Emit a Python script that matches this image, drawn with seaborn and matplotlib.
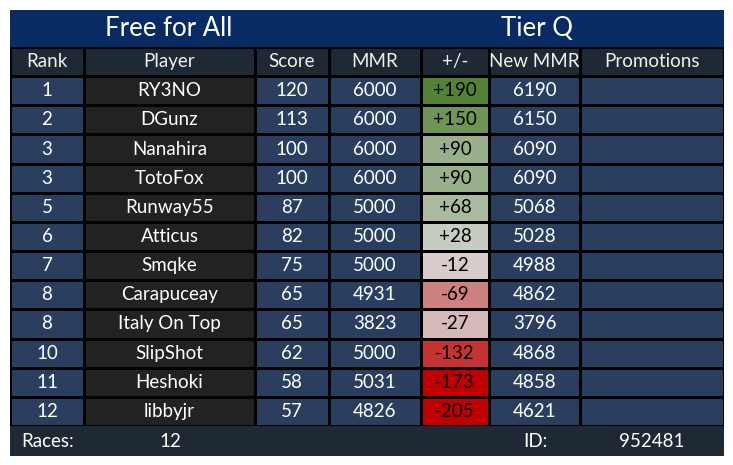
import numpy as np
import pandas as pd
import seaborn as sns
import matplotlib.pyplot as plt
from matplotlib.colors import LinearSegmentedColormap, ListedColormap, TwoSlopeNorm

columns = ['Rank', 'Player', 'Score', 'MMR', '+/-', 'New MMR', 'Promotions']
rank = ['1', '2', '3', '3', '5', '6', '7', '8', '8', '10', '11', '12']
player = ['RY3NO', 'DGunz', 'Nanahira', 'TotoFox', 'Runway55', 'Atticus', 'Smqke',
          'Carapuceay', 'Italy On Top', 'SlipShot', 'Heshoki', 'libbyjr']
score = [120, 113, 100, 100, 87, 82, 75, 65, 65, 62, 58, 57]
mmr = [6000, 6000, 6000, 6000, 5000, 5000, 5000, 4931, 3823, 5000, 5031, 4826]
delta = [190, 150, 90, 90, 68, 28, -12, -69, -27, -132, -173, -205]
new_mmr = [6190, 6150, 6090, 6090, 5068, 5028, 4988, 4862, 3796, 4868, 4858, 4621]
promotions = [''] * 12

TITLE_BG = '#082b63'
HEADER_BG = '#1f2933'
BLUE = '#2a3f5f'
DARK = '#222222'
FS = 13.5

sns.set_theme(style='white')
plt.rcParams['font.family'] = ['Lato', 'DejaVu Sans']

col_text = [rank, player, score, mmr, ['%+d' % d for d in delta], new_mmr, promotions]
col_bg = [BLUE, DARK, BLUE, BLUE, None, BLUE, BLUE]
col_widths = [74, 171, 74, 92, 68, 91, 144]

delta_cmap = LinearSegmentedColormap.from_list('delta', ['#c00000', '#d9d9d9', '#548235'])
delta_norm = TwoSlopeNorm(vmin=-173, vcenter=0, vmax=190)

fig = plt.figure(figsize=(7.33, 4.65), dpi=100)
gs = fig.add_gridspec(3, 7, left=10 / 733, right=724 / 733, top=1 - 10 / 465, bottom=1 - 456 / 465,
                      width_ratios=col_widths, height_ratios=[37, 379, 30], wspace=0, hspace=0)

# title bar
ax_top = fig.add_subplot(gs[0, :])
ax_top.set_facecolor(TITLE_BG)
ax_top.set_xlim(10, 724)
ax_top.set_ylim(0, 1)
ax_top.text(169, 0.5, 'Free for All', color='white', fontsize=18.5, ha='center', va='center')
ax_top.text(537, 0.5, 'Tier Q', color='white', fontsize=18.5, ha='center', va='center')

# one heatmap per column, because widths differ
n = len(rank)
for i, name in enumerate(columns):
    ax = fig.add_subplot(gs[1, i])
    labels = np.array([name] + [str(v) for v in col_text[i]], dtype=object).reshape(-1, 1)
    head_mask = np.zeros((n + 1, 1), dtype=bool)
    head_mask[0] = True

    sns.heatmap(pd.DataFrame(np.zeros((n + 1, 1))), ax=ax, mask=~head_mask, cbar=False,
                cmap=ListedColormap([HEADER_BG]), annot=labels, fmt='', linewidths=1,
                linecolor='black', annot_kws={'color': '#f0f0f0', 'fontsize': FS})
    if name == '+/-':
        body = pd.DataFrame(np.array([0] + delta, dtype=float).reshape(-1, 1))
        sns.heatmap(body, ax=ax, mask=head_mask, cbar=False, cmap=delta_cmap, norm=delta_norm,
                    annot=labels, fmt='', linewidths=1, linecolor='black',
                    annot_kws={'color': 'black', 'fontsize': FS})
    else:
        sns.heatmap(pd.DataFrame(np.zeros((n + 1, 1))), ax=ax, mask=head_mask, cbar=False,
                    cmap=ListedColormap([col_bg[i]]), annot=labels, fmt='', linewidths=1,
                    linecolor='black', annot_kws={'color': 'white', 'fontsize': FS})
    ax.set_xticks([])
    ax.set_yticks([])
    ax.set_xlabel('')
    ax.set_ylabel('')

# footer
ax_foot = fig.add_subplot(gs[2, :])
ax_foot.set_facecolor(HEADER_BG)
ax_foot.set_xlim(10, 724)
ax_foot.set_ylim(0, 1)
ax_foot.text(21, 0.5, 'Races:', color='white', fontsize=FS, ha='left', va='center')
ax_foot.text(170, 0.5, '12', color='white', fontsize=FS, ha='center', va='center')
ax_foot.text(535, 0.5, 'ID:', color='white', fontsize=FS, ha='center', va='center')
ax_foot.text(652, 0.5, '952481', color='white', fontsize=FS, ha='center', va='center')

for ax in (ax_top, ax_foot):
    ax.set_xticks([])
    ax.set_yticks([])
    sns.despine(ax=ax, left=True, bottom=True)

fig.savefig('out.png', dpi=100)
